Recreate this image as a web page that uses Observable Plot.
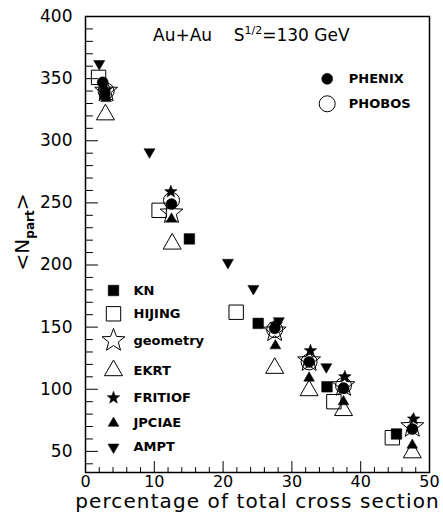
<!DOCTYPE html>
<html>
<head>
<meta charset="utf-8">
<script src="https://cdn.jsdelivr.net/npm/d3@7"></script>
<script src="https://cdn.jsdelivr.net/npm/@observablehq/plot@0.6"></script>
<style>
  body { margin: 0; background: #fff; }
  svg { display: block; }
</style>
</head>
<body>
<div id="chart"></div>
<script>
// <N_part> versus centrality (percentage of total cross section), Au+Au at 130 GeV
const phenix  = [[2.5, 347], [12.5, 249], [27.5, 149], [32.5, 122], [37.5, 101], [47.5, 68]];
const phobos  = [[3, 340], [12.5, 252], [27.5, 148], [32.5, 122], [37.5, 103]];
const kn      = [[2.8, 338], [15.1, 221], [25.1, 153], [35.1, 102], [45.2, 64]];
const hijing  = [[1.9, 351], [10.7, 244], [21.9, 162], [36.1, 90], [44.6, 61]];
const geometry = [[3, 340], [12.5, 242], [27.5, 147], [32.5, 123], [37.5, 103], [47.5, 70]];
const ekrt    = [[2.9, 321], [12.6, 217], [27.5, 117], [32.5, 99], [37.5, 83], [47.5, 49]];
const fritiof = [[3, 341], [12.4, 259], [27.7, 152], [32.7, 131], [37.7, 110], [47.7, 76]];
const jpciae  = [[3, 334], [12.5, 237], [27.6, 135], [32.5, 109], [37.5, 90], [47.5, 55]];
const ampt    = [[2, 362], [9.3, 291], [20.7, 202], [24.4, 181], [28.1, 155], [35, 118]];

const xTickLabels = [0, 10, 20, 30, 40, 50];
const yTickLabels = [50, 100, 150, 200, 250, 300, 350, 400];

// marker shapes; the dot radius r is the shape's half-size
const circleSym = {draw(c, s) { const r = Math.sqrt(s / Math.PI); c.moveTo(r, 0); c.arc(0, 0, r, 0, 2 * Math.PI); }};
const squareSym = {draw(c, s) { const h = Math.sqrt(s / Math.PI); c.rect(-h, -h, 2 * h, 2 * h); }};
const triUpSym = {draw(c, s) {
  const R = Math.sqrt(s / Math.PI), w = R * Math.sqrt(3) / 2;
  c.moveTo(0, -R); c.lineTo(w, R / 2); c.lineTo(-w, R / 2); c.closePath();
}};
const triDownSym = {draw(c, s) {
  const R = Math.sqrt(s / Math.PI), w = R * Math.sqrt(3) / 2;
  c.moveTo(0, R); c.lineTo(w, -R / 2); c.lineTo(-w, -R / 2); c.closePath();
}};
const starSym = (ratio) => ({draw(c, s) {
  const R = Math.sqrt(s / Math.PI), r = R * ratio;
  for (let i = 0; i < 10; ++i) {
    const a = -Math.PI / 2 + i * Math.PI / 5, k = i % 2 ? r : R;
    const x = k * Math.cos(a), y = k * Math.sin(a);
    if (i) c.lineTo(x, y); else c.moveTo(x, y);
  }
  c.closePath();
}});

const models = [
  {label: "KN",       data: kn,       symbol: squareSym,    r: 5.3,  filled: true},
  {label: "HIJING",   data: hijing,   symbol: squareSym,    r: 7.2,  filled: false},
  {label: "geometry", data: geometry, symbol: starSym(0.42), r: 12,  filled: false},
  {label: "EKRT",     data: ekrt,     symbol: triUpSym,     r: 10.4, filled: false},
  {label: "FRITIOF",  data: fritiof,  symbol: starSym(0.42), r: 6.6, filled: true},
  {label: "JPCIAE",   data: jpciae,   symbol: triUpSym,     r: 6.2,  filled: true},
  {label: "AMPT",     data: ampt,     symbol: triDownSym,   r: 6.4,  filled: true}
];
const experiments = [
  {label: "PHENIX", data: phenix, symbol: circleSym, r: 5.5, filled: true},
  {label: "PHOBOS", data: phobos, symbol: circleSym, r: 8,   filled: false}
];

// legend rows, pixel offsets from the frame's top-left corner
const modelLegendDy = [274, 297.3, 324, 354, 381.3, 406.7, 430.7];
const expLegendDy = [62.3, 87.3];

const dotStyle = (s) => s.filled
  ? {fill: "black", stroke: "black", strokeWidth: 0.5}
  : {fill: "none", stroke: "black", strokeWidth: 1};

const seriesMarks = [...models, ...experiments].map((s) =>
  Plot.dot(s.data, {x: (d) => d[0], y: (d) => d[1], symbol: s.symbol, r: s.r, ...dotStyle(s)})
);

const legendText = {textAnchor: "start", lineAnchor: "middle", fontSize: 13, fontWeight: "bold"};
const legendMarks = [];
models.forEach((s, i) => {
  legendMarks.push(Plot.dot([s], {frameAnchor: "top-left", dx: 28, dy: modelLegendDy[i], symbol: s.symbol, r: s.r, ...dotStyle(s)}));
  legendMarks.push(Plot.text([s], {frameAnchor: "top-left", dx: 48, dy: modelLegendDy[i], text: "label", ...legendText}));
});
experiments.forEach((s, i) => {
  legendMarks.push(Plot.dot([s], {frameAnchor: "top-left", dx: 241.7, dy: expLegendDy[i], symbol: s.symbol, r: s.r, ...dotStyle(s)}));
  legendMarks.push(Plot.text([s], {frameAnchor: "top-left", dx: 263.3, dy: expLegendDy[i], text: "label", ...legendText}));
});

// inward tick marks drawn as short line vectors
const tickShape = {draw(c, l) { c.moveTo(0, 0); c.lineTo(0, -l); }};
const yMajor = d3.range(50, 401, 50);
const yMinor = d3.range(40, 400, 10).filter((v) => v % 50 !== 0);
const xMajor = d3.range(0, 51, 10);
const xMinor = d3.range(2, 50, 2).filter((v) => v % 10 !== 0);

const plot = Plot.plot({
  width: 443,
  height: 519,
  marginLeft: 85,
  marginRight: 14,
  marginTop: 16,
  marginBottom: 47,
  style: {fontFamily: "DejaVu Sans", fontSize: "16px", color: "black", background: "white"},
  x: {domain: [0, 50]},
  y: {domain: [33, 400]},
  marks: [
    Plot.vector(yMajor, {y: (d) => d, frameAnchor: "left", rotate: 90, length: 12, anchor: "start", shape: tickShape, stroke: "black", strokeWidth: 1}),
    Plot.vector(yMinor, {y: (d) => d, frameAnchor: "left", rotate: 90, length: 7, anchor: "start", shape: tickShape, stroke: "black", strokeWidth: 1}),
    Plot.vector(xMajor, {x: (d) => d, frameAnchor: "bottom", rotate: 0, length: 11, anchor: "start", shape: tickShape, stroke: "black", strokeWidth: 1}),
    Plot.vector(xMinor, {x: (d) => d, frameAnchor: "bottom", rotate: 0, length: 5, anchor: "start", shape: tickShape, stroke: "black", strokeWidth: 1}),
    Plot.axisY({ticks: yTickLabels, tickSize: 0, tickPadding: 13, label: null, fontSize: 17}),
    Plot.axisX({ticks: xTickLabels, tickSize: 0, tickPadding: 3, label: null, fontSize: 16}),
    Plot.text(["percentage of total cross section"], {frameAnchor: "bottom", dy: 35, lineAnchor: "bottom", fontSize: 20, className: "xlabel"}),
    ...seriesMarks,
    ...legendMarks,
    Plot.frame({stroke: "black", strokeWidth: 1.5})
  ]
});

const svg = d3.select(plot);

// widen the x-axis title's letter spacing
svg.selectAll(".xlabel text").attr("letter-spacing", "1.1px");

// title with the superscript exponent
const title = svg.append("text")
  .attr("x", 153).attr("y", 41).attr("text-anchor", "start")
  .attr("font-family", "DejaVu Sans").attr("font-size", 17).attr("fill", "black");
title.append("tspan").text("Au+Au\u00a0\u00a0\u00a0\u00a0S");
title.append("tspan").attr("font-size", 11).attr("dy", -7).text("1/2");
title.append("tspan").attr("dy", 7).text("=130 GeV");

// rotated y-axis label <N_part>
const ylab = svg.append("text")
  .attr("transform", "translate(29,232) rotate(-90)")
  .attr("text-anchor", "middle")
  .attr("font-family", "DejaVu Sans").attr("font-size", 20).attr("fill", "black");
ylab.append("tspan").text("<N");
ylab.append("tspan").attr("font-size", 12).attr("font-weight", "bold").attr("dy", 5).text("part");
ylab.append("tspan").attr("dy", -5).text(">");

document.getElementById("chart").appendChild(plot);
</script>
</body>
</html>
